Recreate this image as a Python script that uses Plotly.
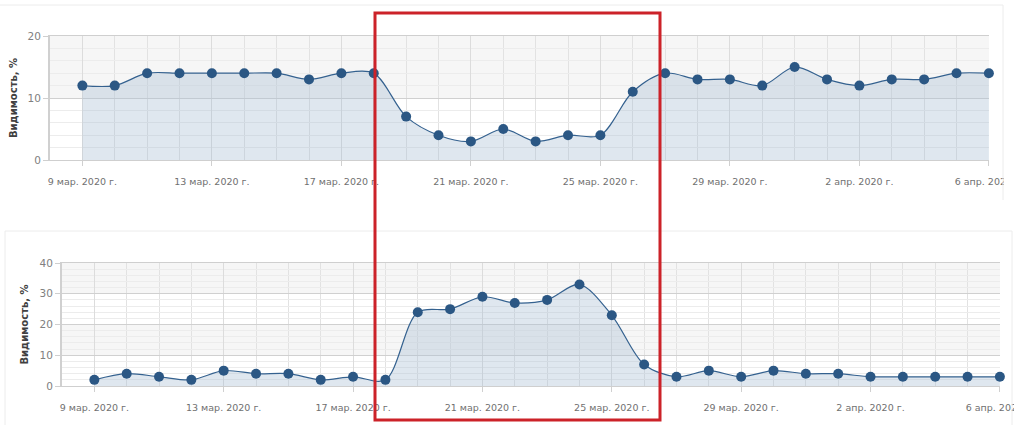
import pandas as pd
import plotly.graph_objects as go

dates = pd.date_range("2020-03-09", "2020-04-06", freq="D")
top_values = [12, 12, 14, 14, 14, 14, 14, 13, 14, 14, 7, 4, 3, 5, 3, 4, 4, 11,
              14, 13, 13, 12, 15, 13, 12, 13, 13, 14, 14]
bottom_values = [2, 4, 3, 2, 5, 4, 4, 2, 3, 2, 24, 25, 29, 27, 28, 33, 23, 7,
                 3, 5, 3, 5, 4, 4, 3, 3, 3, 3, 3]
tick_dates = ["2020-03-09", "2020-03-13", "2020-03-17", "2020-03-21",
              "2020-03-25", "2020-03-29", "2020-04-02", "2020-04-06"]
tick_labels = ["9 мар. 2020 г.", "13 мар. 2020 г.", "17 мар. 2020 г.",
               "21 мар. 2020 г.", "25 мар. 2020 г.", "29 мар. 2020 г.",
               "2 апр. 2020 г.", "6 апр. 2020 г."]
y_title = "Видимость, %"

W, H = 1014, 440
def px(x):
    return x / W
def py(y):
    return 1 - y / H

LINE = "#34618f"
MARK = "#2b5784"
FILL = "rgba(170,192,212,0.38)"
FONT = "DejaVu Sans"

fig = go.Figure()
for vals, xa, ya in [(top_values, "x", "y"), (bottom_values, "x2", "y2")]:
    fig.add_trace(go.Scatter(
        x=dates, y=vals, xaxis=xa, yaxis=ya, mode="lines+markers",
        line=dict(color=LINE, width=1.2, shape="spline", smoothing=0.9),
        marker=dict(color=MARK, size=10),
        fill="tozeroy", fillcolor=FILL, cliponaxis=False, showlegend=False))

xcommon = dict(
    type="date", range=["2020-03-08", "2020-04-06 00:05"],
    tickmode="array", tickvals=tick_dates, ticktext=tick_labels,
    ticks="outside", ticklen=5, tickcolor="#d0d0d0", ticklabelstandoff=8,
    ticklabeloverflow="allow", automargin=False,
    showgrid=True, gridcolor="#dcdcdc", gridwidth=1,
    minor=dict(dtick=86400000, showgrid=True, gridcolor="#e2e2e2", gridwidth=1,
               tick0="2020-03-09"),
    showline=True, linecolor="#cfcfcf", linewidth=1, mirror=True,
    tickfont=dict(family=FONT, size=9.5, color="#707070"),
    zeroline=False, fixedrange=True)
ycommon = dict(
    tickmode="linear", tick0=0, ticks="outside", ticklen=5, tickcolor="#cfcfcf",
    automargin=False,
    showgrid=True, gridcolor="#d0d0d0", gridwidth=1,
    minor=dict(dtick=2, showgrid=True, gridcolor="#ececec", gridwidth=1),
    showline=True, linecolor="#d0d0d0", linewidth=2, mirror=False,
    tickfont=dict(family=FONT, size=10.5, color="#808080"),
    zeroline=False,
    title=dict(text="<b>" + y_title + "</b>", font=dict(family=FONT, size=10, color="#404040")),
    fixedrange=True)

fig.update_layout(
    width=W, height=H, margin=dict(l=0, r=0, t=0, b=0, pad=0, autoexpand=False),
    paper_bgcolor="white", plot_bgcolor="white",
    xaxis=dict(xcommon, domain=[px(50), px(989)], anchor="y"),
    yaxis=dict(ycommon, domain=[py(160), py(36)], range=[0, 20], dtick=10,
               anchor="x", title_standoff=8),
    xaxis2=dict(xcommon, domain=[px(62), px(1000)], anchor="y2"),
    yaxis2=dict(ycommon, domain=[py(386), py(263)], range=[0, 40], dtick=10,
                anchor="x2", title_standoff=9),
)

shapes = []
# grey background bands
for xr, yr, y0, y1 in [("x domain", "y", 10, 20), ("x2 domain", "y2", 30, 40),
                       ("x2 domain", "y2", 10, 20)]:
    shapes.append(dict(type="rect", xref=xr, yref=yr, x0=0, x1=1, y0=y0, y1=y1,
                       fillcolor="rgba(0,0,0,0.035)", line=dict(width=0), layer="below"))
# clip of top card (label cut at card edge)
shapes.append(dict(type="rect", xref="paper", yref="paper", x0=px(1004), x1=1,
                   y0=py(200), y1=py(165), fillcolor="white", line=dict(width=0),
                   layer="above"))
# card borders
card = dict(color="#ececec", width=1)
shapes += [
    dict(type="line", xref="paper", yref="paper", x0=0, x1=px(1003), y0=py(5), y1=py(5), line=card),
    dict(type="line", xref="paper", yref="paper", x0=px(1003), x1=px(1003), y0=py(5), y1=py(200), line=card),
    dict(type="line", xref="paper", yref="paper", x0=px(5), x1=px(1012), y0=py(231), y1=py(231), line=card),
    dict(type="line", xref="paper", yref="paper", x0=px(5), x1=px(5), y0=py(231), y1=py(425), line=card),
    dict(type="line", xref="paper", yref="paper", x0=px(1012), x1=px(1012), y0=py(231), y1=py(425), line=card),
]
# red highlight rectangle
shapes.append(dict(type="rect", xref="paper", yref="paper",
                   x0=px(375), x1=px(660), y0=py(420), y1=py(13),
                   line=dict(color="#cc2229", width=3), fillcolor="rgba(0,0,0,0)"))
fig.update_layout(shapes=shapes)

fig.write_html("out.html", config={"displayModeBar": False},
               post_script="document.body.style.margin='0';document.body.style.overflow='hidden';")
